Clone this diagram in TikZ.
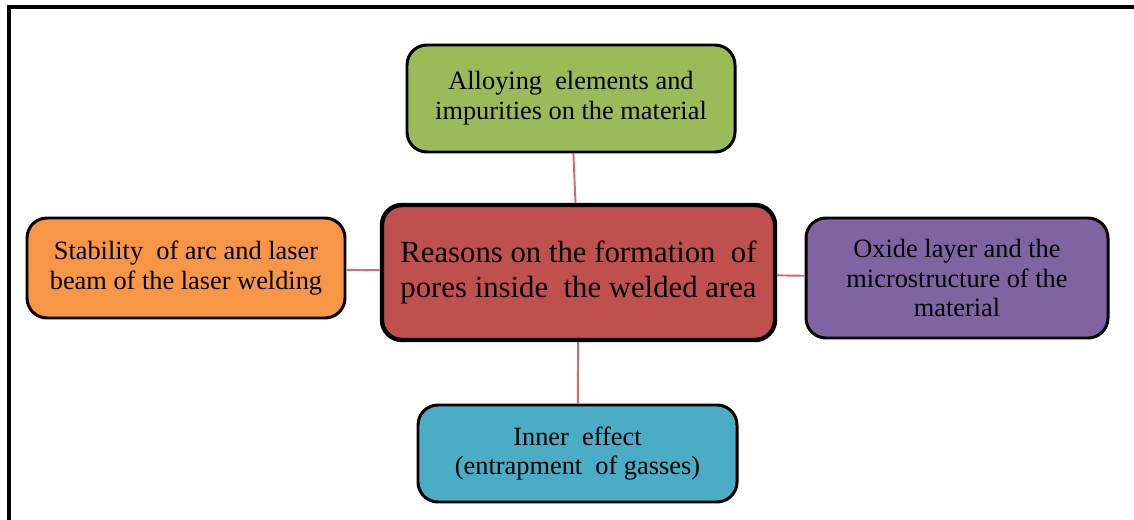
\documentclass[tikz,border=0pt]{standalone}
\usepackage{fontspec}
\setmainfont{LiberationSerif}[Extension=.ttf, UprightFont=*-Regular, BoldFont=*-Bold]
\definecolor{redfill}{HTML}{C0504D}
\definecolor{greenfill}{HTML}{9BBB59}
\definecolor{orangefill}{HTML}{F79646}
\definecolor{purplefill}{HTML}{8064A2}
\definecolor{bluefill}{HTML}{4BACC6}
\definecolor{linkred}{HTML}{D46A6C}
\begin{document}
\begin{tikzpicture}[cause/.style = {draw, line width=1.7pt, rounded corners=0.4cm, align=center, inner sep=0pt, font=\fontsize{15}{17}\selectfont},
    reason/.style = {cause, line width=2.5pt, font=\fontsize{17.5}{20}\selectfont},
    link/.style = {draw=linkred, line width=1.1pt}]
            \useasboundingbox (0,0) rectangle (22.68,10.38);
            % Frame
            \draw[line width=2.3pt] (0.18,-0.2) -- (0.18,10.24) -- (22.9,10.24);
            % Nodes
            \node[reason, fill=redfill, minimum width=7.86cm, minimum height=2.7cm] (R) at (11.57,4.93) {Reasons on the formation\ \ of\\pores inside\ \ the welded area};
            \node[cause, fill=greenfill, minimum width=6.56cm, minimum height=2.14cm] (A) at (11.42,8.41) {Alloying\ \ elements and\\impurities on the material};
            \node[cause, fill=orangefill, minimum width=6.36cm, minimum height=2.0cm] (S) at (3.72,5.02) {Stability\ \ of arc and laser\\beam of the laser welding};
            \node[cause, fill=purplefill, minimum width=6.04cm, minimum height=2.4cm] (O) at (19.14,4.82) {Oxide layer and the\\microstructure of the\\material};
            \node[cause, fill=bluefill, minimum width=6.38cm, minimum height=1.94cm] (I) at (11.55,1.31) {Inner\ \ effect\\(entrapment\ \ of gasses)};

            \draw[link] (A) to (R);
            \draw[link] (S) to (R);
            \draw[link] (R) to (O);
            \draw[link] (R) to (I);
        \end{tikzpicture}
\end{document}
